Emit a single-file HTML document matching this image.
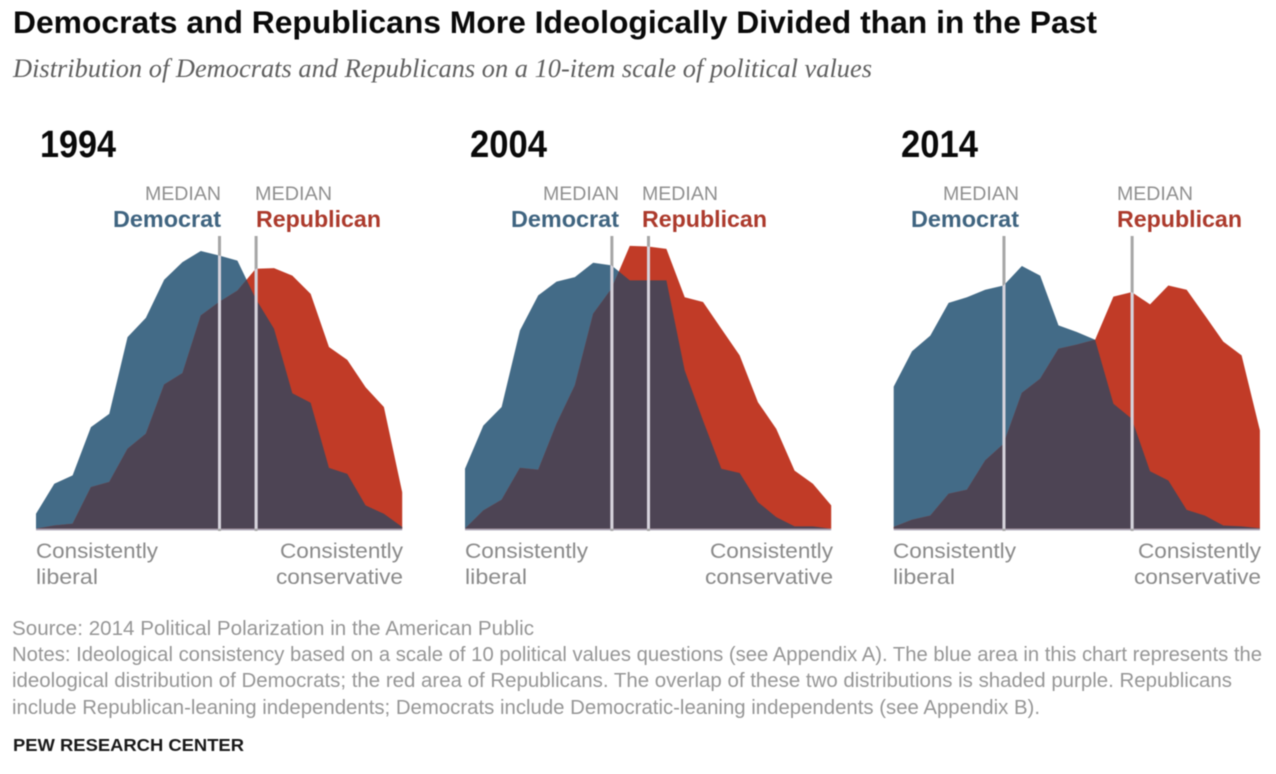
<!DOCTYPE html>
<html lang="en">
<head>
<meta charset="utf-8">
<title>Democrats and Republicans More Ideologically Divided than in the Past</title>
<style>
html,body{margin:0;padding:0;background:#fff;width:1276px;height:774px;overflow:hidden}
svg{display:block;filter:blur(0.5px)}
text{font-family:"Liberation Sans",sans-serif}
.title{font-size:31.5px;font-weight:700;fill:#0a0a0a}
.sub{font-family:"Liberation Serif",serif;font-style:italic;font-size:26px;fill:#5f5f5f}
.year{font-size:38px;font-weight:700;fill:#0a0a0a}
.med{font-size:19px;fill:#8f8f8f}
.dem{font-size:23px;font-weight:700;fill:#3f6480}
.rep{font-size:23px;font-weight:700;fill:#ac3a2c}
.end{font-size:21px;fill:#8a8a8a}
.foot{font-size:20.5px;fill:#969696}
.pew{font-size:17.5px;font-weight:700;fill:#1a1a1a}
</style>
</head>
<body>
<svg id="chart" width="1276" height="774" viewBox="0 0 1276 774" xmlns="http://www.w3.org/2000/svg">
  <text class="title" x="13" y="33" textLength="1084" lengthAdjust="spacingAndGlyphs">Democrats and Republicans More Ideologically Divided than in the Past</text>
  <text class="sub" x="13" y="77" textLength="859" lengthAdjust="spacingAndGlyphs">Distribution of Democrats and Republicans on a 10-item scale of political values</text>

  <g id="panel-0" transform="translate(36,0)"></g>
  <g id="panel-1" transform="translate(465,0)"></g>
  <g id="panel-2" transform="translate(893.7,0)"></g>

  <text class="year" x="40" y="157" textLength="76" lengthAdjust="spacingAndGlyphs">1994</text>
  <text class="year" x="470" y="157" textLength="77" lengthAdjust="spacingAndGlyphs">2004</text>
  <text class="year" x="901" y="157" textLength="77" lengthAdjust="spacingAndGlyphs">2014</text>

  <text class="med" x="145" y="200" textLength="76" lengthAdjust="spacingAndGlyphs">MEDIAN</text>
  <text class="dem" x="113" y="227" textLength="108" lengthAdjust="spacingAndGlyphs">Democrat</text>
  <text class="med" x="255" y="200" textLength="77" lengthAdjust="spacingAndGlyphs">MEDIAN</text>
  <text class="rep" x="256" y="227" textLength="125" lengthAdjust="spacingAndGlyphs">Republican</text>

  <text class="med" x="543" y="200" textLength="76" lengthAdjust="spacingAndGlyphs">MEDIAN</text>
  <text class="dem" x="511" y="227" textLength="108" lengthAdjust="spacingAndGlyphs">Democrat</text>
  <text class="med" x="642" y="200" textLength="76" lengthAdjust="spacingAndGlyphs">MEDIAN</text>
  <text class="rep" x="642" y="227" textLength="125" lengthAdjust="spacingAndGlyphs">Republican</text>

  <text class="med" x="943" y="200" textLength="76" lengthAdjust="spacingAndGlyphs">MEDIAN</text>
  <text class="dem" x="911" y="227" textLength="108" lengthAdjust="spacingAndGlyphs">Democrat</text>
  <text class="med" x="1117" y="200" textLength="76" lengthAdjust="spacingAndGlyphs">MEDIAN</text>
  <text class="rep" x="1117" y="227" textLength="125" lengthAdjust="spacingAndGlyphs">Republican</text>

  <text class="end" x="36" y="558" textLength="122" lengthAdjust="spacingAndGlyphs">Consistently</text>
  <text class="end" x="36" y="584" textLength="62" lengthAdjust="spacingAndGlyphs">liberal</text>
  <text class="end" x="280" y="558" textLength="123" lengthAdjust="spacingAndGlyphs">Consistently</text>
  <text class="end" x="276" y="584" textLength="127" lengthAdjust="spacingAndGlyphs">conservative</text>

  <text class="end" x="465" y="558" textLength="123" lengthAdjust="spacingAndGlyphs">Consistently</text>
  <text class="end" x="465" y="584" textLength="62" lengthAdjust="spacingAndGlyphs">liberal</text>
  <text class="end" x="710" y="558" textLength="123" lengthAdjust="spacingAndGlyphs">Consistently</text>
  <text class="end" x="705" y="584" textLength="128" lengthAdjust="spacingAndGlyphs">conservative</text>

  <text class="end" x="893" y="558" textLength="123" lengthAdjust="spacingAndGlyphs">Consistently</text>
  <text class="end" x="893" y="584" textLength="62" lengthAdjust="spacingAndGlyphs">liberal</text>
  <text class="end" x="1138" y="558" textLength="123" lengthAdjust="spacingAndGlyphs">Consistently</text>
  <text class="end" x="1134" y="584" textLength="127" lengthAdjust="spacingAndGlyphs">conservative</text>

  <text class="foot" x="12" y="635" textLength="522" lengthAdjust="spacingAndGlyphs">Source: 2014 Political Polarization in the American Public</text>
  <text class="foot" x="12" y="661" textLength="1250" lengthAdjust="spacingAndGlyphs">Notes: Ideological consistency based on a scale of 10 political values questions (see Appendix A). The blue area in this chart represents the</text>
  <text class="foot" x="12" y="687" textLength="1220" lengthAdjust="spacingAndGlyphs">ideological distribution of Democrats; the red area of Republicans. The overlap of these two distributions is shaded purple. Republicans</text>
  <text class="foot" x="12" y="714" textLength="1028" lengthAdjust="spacingAndGlyphs">include Republican-leaning independents; Democrats include Democratic-leaning independents (see Appendix B).</text>
  <text class="pew" x="13" y="751" textLength="231" lengthAdjust="spacingAndGlyphs">PEW RESEARCH CENTER</text>
</svg>

<script>
// Share of each party (percent) at each of the 21 scale scores.
const years = ['1994', '2004', '2014'];
const dem1994 = [0.5,1.5,1.78,3.39,3.83,6.39,7.03,8.3,8.89,9.26,9.11,8.94,7.67,6.67,4.52,4.2,2.03,1.83,0.78,0.5,0.06];
const rep1994 = [0,0.11,0.17,1.39,1.56,2.67,3.17,4.81,5.19,7.11,7.56,7.94,8.67,8.69,8.44,7.83,6.06,5.63,4.72,4.06,1.22];
const dem2004 = [2.0,3.44,4.06,6.61,7.78,8.24,8.39,8.87,8.78,8.28,8.28,8.28,5.28,3.61,2.0,1.86,0.89,0.39,0.08,0.08,0];
const rep2004 = [0,0.61,0.97,2.03,1.97,3.5,4.78,7.17,8.0,9.43,9.41,9.33,7.72,7.56,6.67,5.78,4.22,3.33,1.94,1.5,0.78];
const dem2014 = [4.74,5.92,6.44,7.53,7.72,7.97,8.11,8.76,8.44,6.78,6.56,6.3,4.17,3.67,1.92,1.61,0.63,0.44,0.11,0.08,0.02];
const rep2014 = [0.06,0.3,0.44,1.17,1.3,2.28,2.83,4.53,5.0,6.0,6.14,6.3,7.74,7.89,7.48,8.11,7.97,7.11,6.24,5.78,3.28];
const demSeries = [dem1994, dem2004, dem2014];
const repSeries = [rep1994, rep2004, rep2014];
const demMedians = [10, 8, 6];
const repMedians = [12, 10, 13];

const SVGNS = 'http://www.w3.org/2000/svg';
const xScale = function (score) { return score * 18.31; };
const yScale = function (value) { return 528.8 - value * 30; };

function areaPath(values) {
  let d = 'M' + xScale(0) + ' ' + yScale(0);
  values.forEach(function (v, i) {
    d += 'L' + xScale(i).toFixed(2) + ' ' + yScale(v).toFixed(2);
  });
  d += 'L' + xScale(values.length - 1) + ' ' + yScale(0) + 'Z';
  return d;
}

function make(tag, attrs, parent) {
  const el = document.createElementNS(SVGNS, tag);
  Object.keys(attrs).forEach(function (k) { el.setAttribute(k, attrs[k]); });
  parent.appendChild(el);
  return el;
}

years.forEach(function (year, p) {
  const g = document.getElementById('panel-' + p);
  const demD = areaPath(demSeries[p]);
  const repD = areaPath(repSeries[p]);

  const defs = make('defs', {}, g);
  const clipDem = make('clipPath', { id: 'clip-dem-' + p }, defs);
  make('path', { d: demD }, clipDem);
  const clipAll = make('clipPath', { id: 'clip-all-' + p }, defs);
  make('path', { d: demD }, clipAll);
  make('path', { d: repD }, clipAll);

  const demArea = make('path', { d: demD, fill: '#436b87' }, g);
  
  

  const repArea = make('path', { d: repD, fill: '#c13b27' }, g);
  
  

  const overlap = make('path', { d: repD, fill: '#4d4454', 'clip-path': 'url(#clip-dem-' + p + ')' }, g);
  
  

  const baseline = make('line', { x1: xScale(0), x2: xScale(20), y1: yScale(0) + 0.8, y2: yScale(0) + 0.8, stroke: '#a9a3b5', 'stroke-width': 1.6 }, g);
  
  

  [demMedians[p], repMedians[p]].forEach(function (m, k) {
    const party = k === 0 ? 'democrat' : 'republican';
    const stem = make('line', { x1: xScale(m) + 0.4, x2: xScale(m) + 0.4, y1: 236, y2: 531, stroke: '#a6a6a6', 'stroke-width': 3 }, g);
    
    
    const inner = make('line', { x1: xScale(m) + 0.4, x2: xScale(m) + 0.4, y1: 236, y2: 531, stroke: '#d6d3dc', 'stroke-width': 3, 'clip-path': 'url(#clip-all-' + p + ')' }, g);
    
    
  });
});
</script>
</body>
</html>
